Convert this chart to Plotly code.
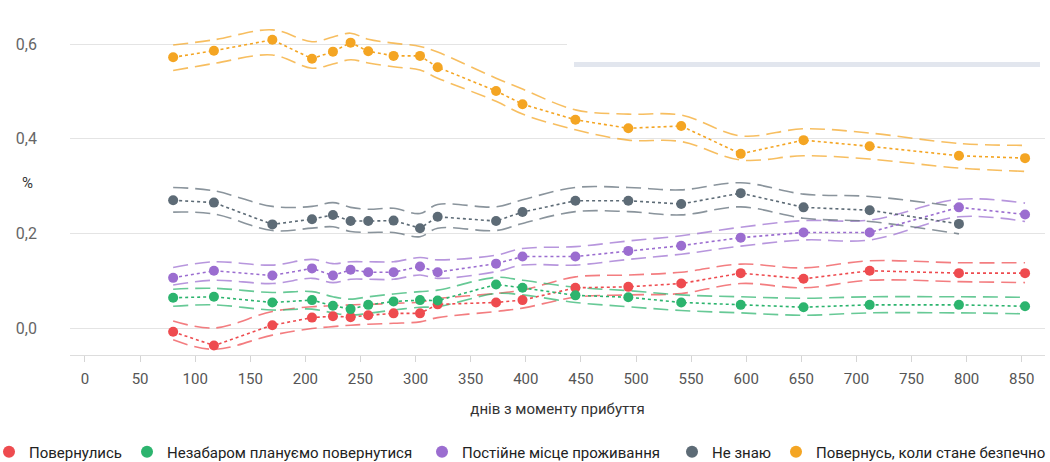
import plotly.graph_objects as go

# ---------------- data ----------------
days = [80, 117, 170, 206, 225, 241, 257, 280, 304, 320,
        373, 397, 445, 493, 541, 595, 652, 712, 793, 853]

red = [-0.008, -0.037, 0.006, 0.022, 0.025, 0.023, 0.027, 0.031, 0.031, 0.050,
       0.054, 0.059, 0.085, 0.087, 0.094, 0.116, 0.104, 0.121, 0.116, 0.116]
red_hi = [0.015, 0.000, 0.035, 0.045, 0.047, 0.049, 0.050, 0.052, 0.055, 0.062,
          0.073, 0.080, 0.108, 0.112, 0.118, 0.135, 0.127, 0.142, 0.138, 0.138]
red_lo = [-0.025, -0.045, -0.015, -0.001, 0.003, 0.006, 0.008, 0.010, 0.013, 0.022,
          0.035, 0.042, 0.065, 0.070, 0.073, 0.094, 0.085, 0.101, 0.098, 0.096]

green = [0.064, 0.066, 0.054, 0.059, 0.047, 0.040, 0.049, 0.056, 0.059, 0.058,
         0.092, 0.085, 0.069, 0.065, 0.054, 0.049, 0.044, 0.049, 0.049, 0.046]
green_hi = [0.082, 0.084, 0.075, 0.077, 0.066, 0.061, 0.066, 0.072, 0.077, 0.080,
            0.107, 0.101, 0.086, 0.079, 0.070, 0.066, 0.063, 0.066, 0.066, 0.065]
green_lo = [0.046, 0.049, 0.038, 0.040, 0.032, 0.027, 0.031, 0.038, 0.044, 0.045,
            0.073, 0.070, 0.054, 0.045, 0.037, 0.032, 0.027, 0.032, 0.032, 0.030]

purple = [0.106, 0.121, 0.111, 0.126, 0.111, 0.123, 0.118, 0.118, 0.130, 0.118,
          0.136, 0.151, 0.151, 0.163, 0.174, 0.191, 0.202, 0.202, 0.255, 0.240]
purple_hi = [0.128, 0.140, 0.133, 0.145, 0.136, 0.140, 0.140, 0.140, 0.149, 0.144,
             0.154, 0.168, 0.172, 0.184, 0.195, 0.213, 0.227, 0.228, 0.272, 0.264]
purple_lo = [0.091, 0.101, 0.094, 0.105, 0.096, 0.103, 0.103, 0.103, 0.112, 0.105,
             0.119, 0.133, 0.133, 0.145, 0.156, 0.173, 0.186, 0.186, 0.235, 0.225]

grey = [0.270, 0.265, 0.219, 0.230, 0.239, 0.226, 0.226, 0.227, 0.211, 0.235,
        0.226, 0.245, 0.269, 0.269, 0.262, 0.285, 0.255, 0.249, 0.220]
grey_hi = [0.297, 0.290, 0.257, 0.257, 0.265, 0.255, 0.251, 0.253, 0.242, 0.261,
           0.256, 0.271, 0.297, 0.297, 0.292, 0.307, 0.283, 0.278, 0.256]
grey_lo = [0.245, 0.241, 0.206, 0.211, 0.214, 0.204, 0.202, 0.202, 0.193, 0.211,
           0.206, 0.221, 0.246, 0.246, 0.239, 0.256, 0.232, 0.225, 0.199]

orange = [0.572, 0.586, 0.609, 0.569, 0.584, 0.603, 0.585, 0.575, 0.575, 0.551,
          0.501, 0.473, 0.440, 0.422, 0.427, 0.368, 0.397, 0.384, 0.364, 0.359]
orange_hi = [0.598, 0.609, 0.630, 0.605, 0.615, 0.623, 0.610, 0.602, 0.595, 0.583,
             0.528, 0.505, 0.461, 0.452, 0.450, 0.406, 0.421, 0.412, 0.390, 0.386]
orange_lo = [0.544, 0.559, 0.577, 0.549, 0.558, 0.567, 0.560, 0.552, 0.545, 0.528,
             0.479, 0.452, 0.419, 0.397, 0.394, 0.355, 0.364, 0.357, 0.338, 0.331]

series_names = ["Повернулись", "Незабаром плануємо повернутися",
                "Постійне місце проживання", "Не знаю",
                "Повернусь, коли стане безпечно"]
x_ticks = list(range(0, 851, 50))
y_ticks = [0.0, 0.2, 0.4, 0.6]

# ---------------- styling ----------------
colors = ["#ee4b4f", "#2cb46e", "#9b6dd0", "#5d6b76", "#f4a523"]
band_colors = ["rgba(238,75,79,0.72)", "rgba(44,180,110,0.72)",
               "rgba(155,109,208,0.72)", "rgba(93,107,118,0.72)",
               "rgba(244,165,35,0.72)"]
legend_px = [-11, 127, 422, 672, 776]   # left edge of each legend entry (px)

data = [
    (red, red_hi, red_lo),
    (green, green_hi, green_lo),
    (purple, purple_hi, purple_lo),
    (grey, grey_hi, grey_lo),
    (orange, orange_hi, orange_lo),
]

fig = go.Figure()

# confidence bands
for i, (vals, hi, lo) in enumerate(data):
    xs = days[:len(vals)]
    for b in (hi, lo):
        fig.add_trace(go.Scatter(
            x=xs, y=b, mode="lines", showlegend=False, hoverinfo="skip",
            line=dict(color=band_colors[i], width=1.6, dash="15px,7px",
                      shape="spline", smoothing=1.0)))

# observed points with dotted connectors
for i, (vals, hi, lo) in enumerate(data):
    xs = days[:len(vals)]
    fig.add_trace(go.Scatter(
        x=xs, y=vals, mode="lines+markers", name=series_names[i],
        showlegend=False, legendgroup=str(i),
        line=dict(color=colors[i], width=1.6, dash="dot"),
        marker=dict(color=colors[i], size=10, line=dict(width=0))))

# legend entries (markers only), one legend per entry for exact placement
legend_ids = ["legend", "legend2", "legend3", "legend4", "legend5"]
for i in range(len(series_names)):
    fig.add_trace(go.Scatter(
        x=[None], y=[None], mode="markers", name=series_names[i],
        legendgroup=str(i), showlegend=True, legend=legend_ids[i],
        marker=dict(color=colors[i], size=12, line=dict(width=0))))

# plot area px: x 70..1045, y 10..355
def px_x(px):
    return (px - 70) / 975.0

def px_y(py):
    return (355 - py) / 345.0

legend_layout = {}
for i, lid in enumerate(legend_ids):
    legend_layout[lid] = dict(
        orientation="h", xref="paper", yref="paper",
        x=px_x(legend_px[i]), xanchor="left", y=px_y(452), yanchor="middle",
        font=dict(family="Roboto, sans-serif", size=15, color="#222222"),
        itemwidth=30, bgcolor="rgba(0,0,0,0)")

fig.update_layout(
    width=1050, height=462,
    margin=dict(l=70, r=5, t=10, b=107, autoexpand=False),
    paper_bgcolor="white", plot_bgcolor="white",
    separators=", ",
    font=dict(family="Roboto, sans-serif", color="#555555", size=14),
    showlegend=True,
    xaxis=dict(range=[-13.6, 871.1], tickvals=x_ticks, showgrid=False,
               automargin=False,
               zeroline=False, showline=True, linecolor="#dddddd", linewidth=1,
               ticks="outside", ticklen=6, tickcolor="#d5d5d5",
               ticklabelstandoff=4,
               tickfont=dict(family="Roboto, sans-serif", size=15, color="#555555"),
               title=dict(text="днів з моменту прибуття", standoff=16,
                          font=dict(family="Roboto, sans-serif", size=15, color="#333333"))),
    yaxis=dict(range=[-0.057, 0.672], tickvals=y_ticks, tickformat=".1f",
               automargin=False,
               showgrid=True, gridcolor="#e4e4e4", gridwidth=1,
               zeroline=False, showline=False, ticks="",
               ticklabelstandoff=32,
               tickfont=dict(family="Roboto, sans-serif", size=16, color="#666666")),
    annotations=[dict(text="%", x=px_x(27), y=px_y(183), xref="paper", yref="paper",
                      showarrow=False, xanchor="center", yanchor="middle",
                      font=dict(family="Roboto, sans-serif", size=15, color="#333333"))],
    shapes=[
        dict(type="rect", xref="paper", yref="paper", layer="above",
             x0=px_x(574), x1=px_x(1040), y0=px_y(67), y1=px_y(-5),
             fillcolor="#e2e6ee", line=dict(width=0)),
        dict(type="rect", xref="paper", yref="paper", layer="above",
             x0=px_x(567), x1=px_x(1047), y0=px_y(62), y1=px_y(-5),
             fillcolor="#ffffff", line=dict(width=0)),
    ],
    **legend_layout,
)

fig.write_html("out.html", config={"displayModeBar": False},
               post_script="document.body.style.margin='0';document.body.style.overflow='hidden';")
